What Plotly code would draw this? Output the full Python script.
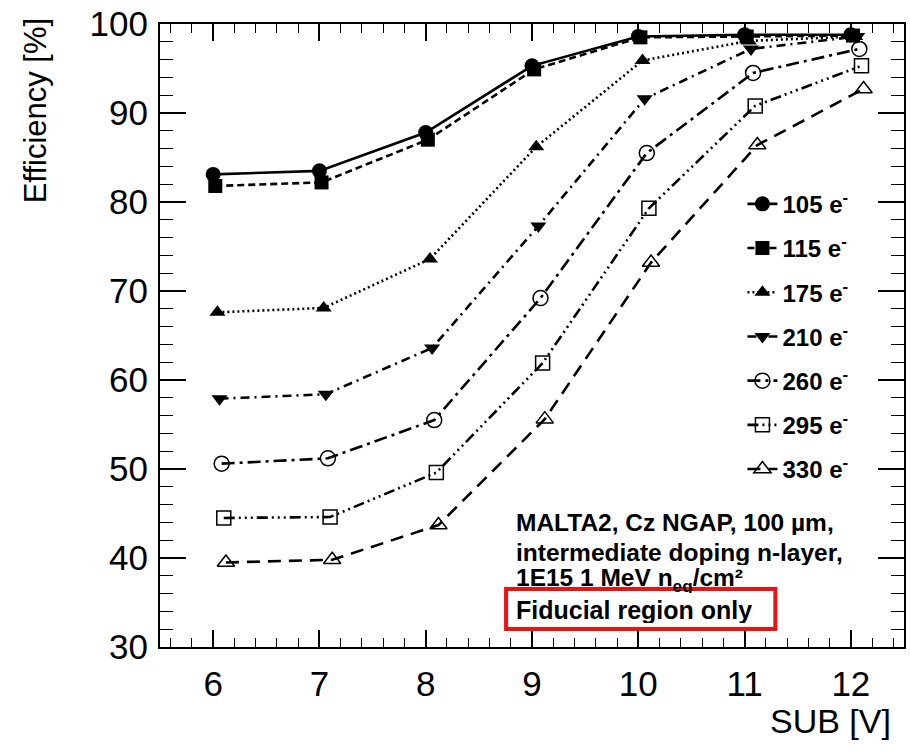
import plotly.graph_objects as go

# Substrate bias voltage [V]
sub_voltage = [6, 7, 8, 9, 10, 11, 12]

# Threshold settings and their small horizontal offsets (to avoid overlap)
thresholds = ["105", "115", "175", "210", "260", "295", "330"]
x_offsets = [0.0, 0.02, 0.04, 0.06, 0.08, 0.10, 0.12]

# Efficiency [%] per threshold
eff_105 = [83.1, 83.5, 87.8, 95.3, 98.6, 98.8, 98.8]
eff_115 = [81.8, 82.2, 87.0, 94.9, 98.5, 98.6, 98.7]
eff_175 = [67.6, 68.1, 73.6, 86.2, 95.9, 98.1, 98.6]
eff_210 = [57.9, 58.4, 63.6, 77.3, 91.6, 97.2, 98.6]
eff_260 = [50.6, 51.2, 55.5, 69.2, 85.5, 94.5, 97.2]
eff_295 = [44.5, 44.6, 49.6, 61.9, 79.3, 90.8, 95.3]
eff_330 = [39.5, 39.8, 43.7, 55.6, 73.2, 86.4, 92.7]

efficiencies = [eff_105, eff_115, eff_175, eff_210, eff_260, eff_295, eff_330]

# Per-series styling (ROOT-like markers and line styles)
symbols = ["circle", "square", "triangle-up", "triangle-down",
           "circle-open", "square-open", "triangle-up-open"]
marker_sizes = [15, 14, 14, 14, 15, 14, 15]
dashes = ["solid", "7px,4px", "2px,3px", "9px,5px,2px,5px",
          "13px,5px,3px,5px", "11px,4px,2px,4px,2px,4px,2px,4px", "13px,8px"]

FONT = "Liberation Sans, Arial, Helvetica, sans-serif"

fig = go.Figure()
for i, (thr, eff) in enumerate(zip(thresholds, efficiencies)):
    xs = [v + x_offsets[i] for v in sub_voltage]
    is_open = symbols[i].endswith("open")
    fig.add_trace(go.Scatter(
        x=xs, y=eff,
        mode="lines+markers",
        name=f"<b>{thr} e<sup>-</sup></b>",
        legendgroup=thr,
        line=dict(color="black", width=2.6, dash=dashes[i]),
        marker=dict(symbol=symbols[i], size=marker_sizes[i], color="black",
                    line=dict(color="black", width=1.5 if is_open else 0)),
    ))

axis_common = dict(
    showline=True, linecolor="black", linewidth=2, mirror="allticks",
    ticks="inside", tickcolor="black", tickwidth=1.6,
    showgrid=False, zeroline=False,
    tickfont=dict(family=FONT, size=35, color="black"),
)

fig.update_xaxes(
    range=[5.5, 12.5], tick0=6, dtick=1, ticklen=17,
    minor=dict(ticks="inside", dtick=0.2, tick0=6, ticklen=9,
               tickcolor="black", tickwidth=1.4),
    ticklabelstandoff=5,
    **axis_common,
)
fig.update_yaxes(
    range=[30, 100], tick0=30, dtick=10, ticklen=26,
    minor=dict(ticks="inside", dtick=2, tick0=30, ticklen=13,
               tickcolor="black", tickwidth=1.4),
    ticklabelstandoff=3,
    **axis_common,
)

L, R, T, B = 160, 4, 23, 105
W, H = 910, 752
pw, ph = W - L - R, H - T - B


def px_x(px):
    return (px - L) / pw


def px_y(py):
    return (H - B - py) / ph


fig.update_layout(
    width=W, height=H,
    margin=dict(l=L, r=R, t=T, b=B, pad=0),
    paper_bgcolor="white", plot_bgcolor="white",
    font=dict(family=FONT, color="black"),
    showlegend=True,
    legend=dict(
        x=px_x(744), y=px_y(181), xanchor="left", yanchor="top",
        bgcolor="rgba(0,0,0,0)", borderwidth=0,
        font=dict(family=FONT, size=24, color="black"),
        tracegroupgap=10, itemwidth=30,
    ),
)

# Axis titles
fig.add_annotation(
    text="Efficiency [%]", textangle=-90,
    xref="paper", yref="paper", x=px_x(35), y=px_y(14),
    xanchor="center", yanchor="top", showarrow=False,
    font=dict(family=FONT, size=31, color="black"),
)
fig.add_annotation(
    text="SUB [V]",
    xref="paper", yref="paper", x=px_x(895), y=px_y(700),
    xanchor="right", yanchor="top", showarrow=False,
    font=dict(family=FONT, size=34, color="black"),
)

# Sample description, one line per annotation
desc_lines = [
    "<b>MALTA2, Cz NGAP, 100 µm,</b>",
    "<b>intermediate doping n-layer,</b>",
    "<b>1E15 1 MeV n<sub>eq</sub>/cm²</b>",
]
desc_centers = [522, 552, 580]
for line, cy in zip(desc_lines, desc_centers):
    fig.add_annotation(
        text=line, xref="paper", yref="paper", x=px_x(515), y=px_y(cy),
        xanchor="left", yanchor="middle", align="left", showarrow=False,
        height=26, valign="middle",
        font=dict(family=FONT, size=24.5, color="black"),
    )

fig.add_annotation(
    text="<b>Fiducial region only</b>",
    xref="paper", yref="paper", x=px_x(515), y=px_y(610),
    xanchor="left", yanchor="middle", align="left", showarrow=False,
    height=26, valign="middle",
    font=dict(family=FONT, size=25, color="black"),
)
fig.add_shape(
    type="rect", xref="paper", yref="paper",
    x0=px_x(507), x1=px_x(777), y0=px_y(629), y1=px_y(589),
    line=dict(color="#ee1111", width=4), fillcolor="rgba(0,0,0,0)",
)

fig.write_html("out.html")
